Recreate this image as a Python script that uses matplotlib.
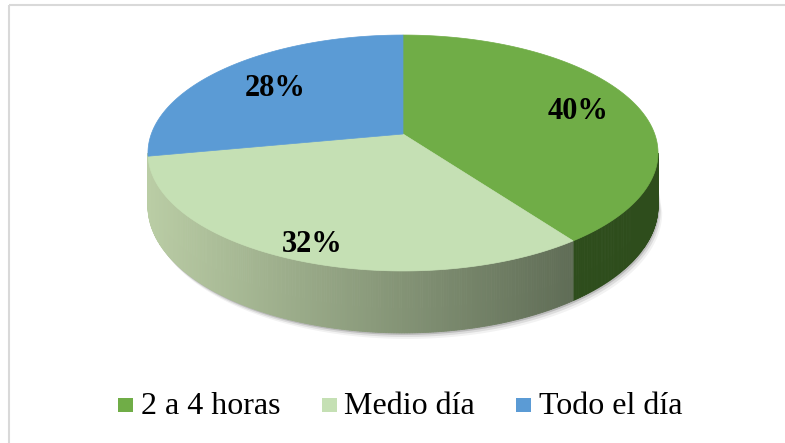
import numpy as np
import matplotlib
matplotlib.use("Agg")
import matplotlib.pyplot as plt
from matplotlib.patches import Polygon, Rectangle
from matplotlib.colors import to_rgb

labels = ["2 a 4 horas", "Medio día", "Todo el día"]
values = [40, 32, 28]
top_colors = ["#70ad47", "#c5e0b4", "#5b9bd5"]
# side wall colours: (left end, right end) of the gradient
side_colors = [("#2c4a1b", "#2e4d1c"), ("#bacda5", "#4d5946"), ("#3d6a94", "#3d6a94")]

W, H = 785, 443
cx, cy = 403, 134          # projected centre of the pie
A, B, k = 251.7, 114.9, 0.161   # simple perspective of the disc
D = 52                     # thickness

def proj(theta, depth=0.0, r=1.0):
    u = r * np.cos(np.radians(theta))
    v = r * np.sin(np.radians(theta))
    w = 1 + k * v
    return cx + A * u / w, cy - B * v / w + D * depth / w

fig = plt.figure(figsize=(W / 100, H / 100), dpi=100)
ax = fig.add_axes([0, 0, 1, 1])
ax.set_xlim(0, W)
ax.set_ylim(H, 0)
ax.axis("off")

# chart border (right and bottom edges fall outside the picture)
ax.add_patch(Rectangle((9, 5), 800, 460, fill=False, edgecolor="#d9d9d9", lw=1.5))

# slice angles, clockwise from the top
fracs = np.array(values) / np.sum(values) * 360
starts = 90 - np.concatenate([[0], np.cumsum(fracs)[:-1]])
ends = starts - fracs

# visible part of the wall, between the silhouette tangents
edge = np.degrees(np.arcsin(k))
vis_lo, vis_hi = -180 + edge, -edge

# soft shadow under the front wall
th = np.linspace(vis_lo, vis_hi, 200)
for off, a in [(6, 0.05), (4, 0.09), (2, 0.15)]:
    bx, by = proj(th, 1.0)
    tx, ty = proj(th[::-1], 0.6)
    ax.add_patch(Polygon(np.column_stack([np.r_[bx + off * 0.7, tx], np.r_[by + off, ty]]),
                         closed=True, facecolor="black", edgecolor="none", alpha=a, zorder=1))

# side walls; a slice that only grazes the silhouette is skipped and its
# neighbour is stretched to the edge
xl, xr = proj(vis_lo)[0], proj(vis_hi)[0]
for i in range(len(values)):
    lo, hi = max(ends[i], vis_lo), min(starts[i], vis_hi)
    if hi - lo < 3:
        continue
    if lo - vis_lo < 3:
        lo = vis_lo
    if vis_hi - hi < 3:
        hi = vis_hi
    c0, c1 = np.array(to_rgb(side_colors[i][0])), np.array(to_rgb(side_colors[i][1]))
    grid = np.linspace(hi, lo, max(int((hi - lo) * 2), 2))
    for a0, a1 in zip(grid[:-1], grid[1:]):
        x0, y0 = proj(a0)
        x1, y1 = proj(a1)
        x0b, y0b = proj(a0, 1.0)
        x1b, y1b = proj(a1, 1.0)
        f = np.clip(((x0 + x1) / 2 - xl) / (xr - xl), 0, 1)
        col = c0 + (c1 - c0) * f
        ax.add_patch(Polygon([[x0, y0], [x1, y1], [x1b, y1b], [x0b, y0b]], closed=True,
                             facecolor=col, edgecolor=col, lw=0.6, zorder=2))

# top faces
for i in range(len(values)):
    th = np.linspace(starts[i], ends[i], 200)
    xs, ys = proj(th)
    pts = np.column_stack([np.r_[cx, xs], np.r_[cy, ys]])
    ax.add_patch(Polygon(pts, closed=True, facecolor=top_colors[i],
                         edgecolor=top_colors[i], lw=0.5, zorder=3))

# percentage labels, pushed outward a bit more on the near side
for i in range(len(values)):
    mid = (starts[i] + ends[i]) / 2
    r = 0.78 - 0.1 * np.sin(np.radians(mid))
    lx, ly = proj(mid, r=r)
    ax.text(lx + 2, ly + 3, f"{values[i]}%", ha="center", va="center", fontsize=22,
            fontweight="bold", family="Liberation Serif", color="black", zorder=5)

# legend
fig.canvas.draw()
renderer = fig.canvas.get_renderer()
x = 118
for i in range(len(labels)):
    ax.add_patch(Rectangle((x, 398), 15, 14, facecolor=top_colors[i], edgecolor="none"))
    t = ax.text(x + 23, 407, labels[i], ha="left", va="center", fontsize=23,
                family="Liberation Serif", color="black")
    bb = t.get_window_extent(renderer)
    x = x + 23 + bb.width + 41

fig.savefig("out.png", dpi=100)
